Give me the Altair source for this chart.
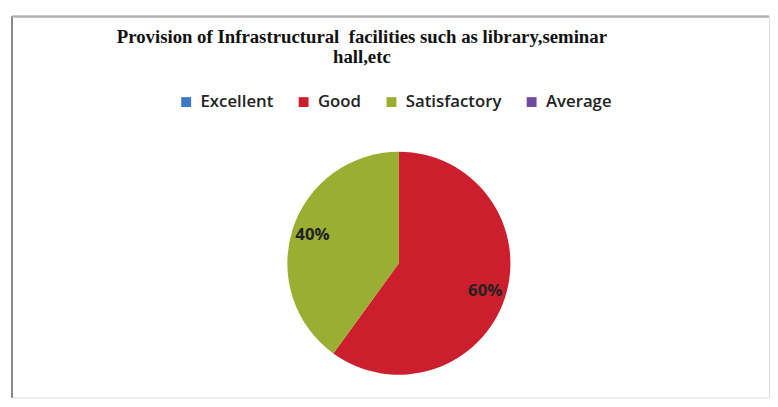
import altair as alt
import pandas as pd

categories = ["Excellent", "Good", "Satisfactory", "Average"]
values = [0, 60, 40, 0]
labels = ["0%", "60%", "40%", "0%"]
colors = ["#3b78c8", "#cc1f2d", "#9aae32", "#6f4a9e"]
title_lines = ["Provision of Infrastructural\u00a0 facilities such as library,seminar", "hall,etc"]

df = pd.DataFrame({"category": categories, "value": values, "label": labels,
                   "idx": list(range(len(categories)))})

W, H = 767, 386
cx, cy, R = 392, 250, 113

base = alt.Chart(df).encode(
    theta=alt.Theta("value:Q", stack=True),
    order=alt.Order("idx:Q"),
)

pie = base.mark_arc(radius=R, stroke=None).encode(
    x=alt.value(cx), y=alt.value(cy),
    color=alt.Color("category:N", scale=alt.Scale(domain=categories, range=colors),
                    sort=categories,
                    legend=alt.Legend(title=None, orient="none", legendX=168, legendY=78,
                                      direction="horizontal", columns=4,
                                      symbolType="square", symbolSize=100, symbolStrokeWidth=0,
                                      labelFont="Open Sans", labelFontSize=17, labelFontWeight=600,
                                      labelColor="#222", labelOffset=6, columnPadding=22)),
)

txt = base.mark_text(radius=92, font="Open Sans", fontSize=17, fontWeight="bold",
                     color="#222").encode(
    x=alt.value(cx), y=alt.value(cy), text="label:N",
).transform_filter(alt.datum.value > 0)

left_rule = alt.Chart(df).mark_rule(color="#8a8a8a", strokeWidth=1.5).encode(
    x=alt.value(0), y=alt.value(0), y2=alt.value(H))
top_rule = alt.Chart(df).mark_rule(color="#b0b0b0", strokeWidth=1.5).encode(
    x=alt.value(0), x2=alt.value(W), y=alt.value(0))

chart = alt.layer(left_rule, top_rule, pie, txt).properties(
    width=W, height=H,
    padding={"left": 3, "top": 5, "right": 0, "bottom": 0},
    title=alt.TitleParams(text=title_lines, font="Liberation Serif", fontSize=19,
                          fontWeight="bold", color="#111", anchor="middle",
                          offset=-52, dx=-29, lineHeight=20),
).configure_view(stroke=None).configure(background="white")

chart.save("out.html", embed_options={"renderer": "svg", "actions": False})
